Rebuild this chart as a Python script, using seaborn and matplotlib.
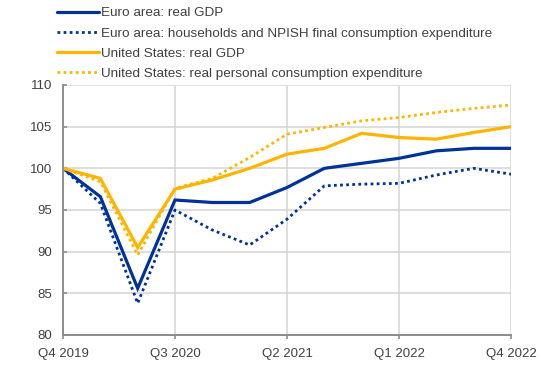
import matplotlib
matplotlib.use("Agg")
import matplotlib.pyplot as plt
import seaborn as sns
import pandas as pd
import numpy as np

quarters = ["Q4 2019", "Q1 2020", "Q2 2020", "Q3 2020", "Q4 2020", "Q1 2021", "Q2 2021",
            "Q3 2021", "Q4 2021", "Q1 2022", "Q2 2022", "Q3 2022", "Q4 2022"]
ea_gdp = [100.0, 96.6, 85.6, 96.2, 95.9, 95.9, 97.7, 100.0, 100.6, 101.2, 102.1, 102.4, 102.4]
ea_cons = [100.0, 95.8, 83.8, 95.0, 92.6, 90.8, 93.9, 97.9, 98.1, 98.2, 99.2, 100.0, 99.3]
us_gdp = [100.0, 98.8, 90.5, 97.5, 98.6, 100.0, 101.7, 102.4, 104.2, 103.7, 103.5, 104.3, 105.0]
us_pce = [100.0, 98.4, 89.6, 97.6, 98.8, 101.3, 104.1, 104.9, 105.7, 106.1, 106.7, 107.2, 107.6]
labels = ["Euro area: real GDP",
          "Euro area: households and NPISH final consumption expenditure",
          "United States: real GDP",
          "United States: real personal consumption expenditure"]
tick_labels = ["Q4 2019", "Q3 2020", "Q2 2021", "Q1 2022", "Q4 2022"]
y_ticks = [80, 85, 90, 95, 100, 105, 110]

sns.set_style("white")
plt.rcParams['font.family'] = ['Liberation Sans', 'DejaVu Sans']
plt.rcParams['font.size'] = 9.5

blue = "#003299"
yellow = "#FFB400"
text_col = "#404040"

fig = plt.figure(figsize=(5.46, 3.73), dpi=100)
ax = fig.add_axes([63/546, 1-335/373, (511-63)/546, (335-85)/373])

x = np.arange(len(quarters))
series = [(ea_gdp, blue, "-"), (ea_cons, blue, ":"), (us_gdp, yellow, "-"), (us_pce, yellow, ":")]
for (vals, col, ls), lab in zip(series, labels):
    df = pd.DataFrame({"x": x, "y": vals})
    if ls == "-":
        sns.lineplot(data=df, x="x", y="y", ax=ax, color=col, linewidth=2.3, label=lab,
                     solid_joinstyle="miter")
    else:
        sns.lineplot(data=df, x="x", y="y", ax=ax, color=col, linewidth=2.0, label=lab)
        ln = ax.get_lines()[-1]
        ln.set_linestyle((0, (1, 1.2)))

ax.set_xlim(0, 12)
ax.set_ylim(80, 110)
tick_pos = [quarters.index(t) for t in tick_labels]
ax.set_xticks(tick_pos)
ax.set_xticklabels(tick_labels)
ax.set_yticks(y_ticks)
ax.set_xlabel("")
ax.set_ylabel("")
ax.grid(True, color="#d4d4d4", linewidth=1.1)
ax.set_axisbelow(True)
for s in ["top", "right"]:
    ax.spines[s].set_visible(False)
for s in ["left", "bottom"]:
    ax.spines[s].set_color("#8c8c8c")
    ax.spines[s].set_linewidth(1.4)
ax.tick_params(axis="x", direction="out", length=3, width=1.2, color="#8c8c8c",
               labelcolor=text_col, pad=6, bottom=True, labelsize=9.5)
ax.tick_params(axis="y", direction="in", length=3, width=1.2, color="#8c8c8c",
               labelcolor=text_col, pad=8, left=True, labelsize=9.5)

h, l = ax.get_legend_handles_labels()
ax.get_legend().remove()
fig.legend(h, l, loc="upper left", bbox_to_anchor=(57/546, 1-7/373), frameon=False,
           handlelength=3.1, handletextpad=0.2, labelspacing=0.58, borderpad=0,
           borderaxespad=0, fontsize=9.7, labelcolor=text_col)

fig.savefig("out.png", dpi=100)
